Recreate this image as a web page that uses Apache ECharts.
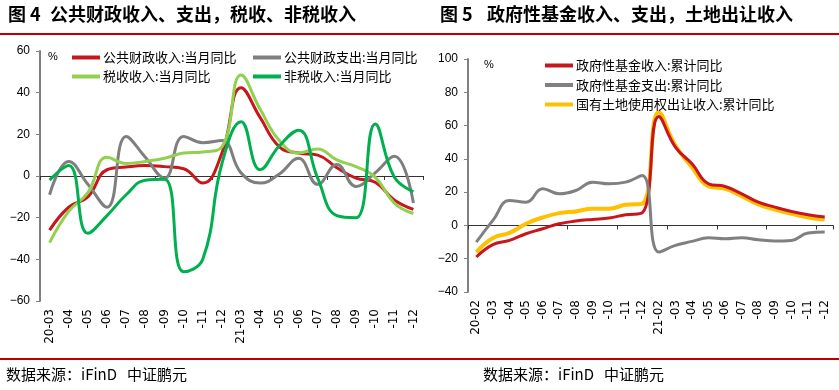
<!DOCTYPE html>
<html><head><meta charset="utf-8">
<script src="https://cdn.jsdelivr.net/npm/echarts@6/dist/echarts.min.js"></script>
<style>html,body{margin:0;padding:0;background:#fff}#c{width:839px;height:390px}</style>
</head><body><div id="c"></div><script>
// ---- Left chart (图4) ----
const leftCats = ['20-03','-04','-05','-06','-07','-08','-09','-10','-11','-12','21-03','-04','-05','-06','-07','-08','-09','-10','-11','-12'];
const revenue = [-26, -15, -10, 3, 4.3, 5, 4.5, 3.5, -3.4, 11, 42.4, 28, 14, 11, 10, 4, -1, -3, -11.5, -16];
const expend  = [-9, 7, -4, -15, 19, 9, -1, 19, 16, 17, 1.5, -3.4, 1, 8.5, -4, 5.5, -5, 1.5, 9.5, -13];
const taxRev  = [-32, -17, -8, 9, 6, 7, 8.5, 11, 11.5, 14, 48.5, 32, 17, 11, 13, 7.7, 4.5, -0.5, -13, -18];
const nonTax  = [-2, 5, -27.5, -19, -9, -2, -1.5, -46, -40, 6, 26, 3, 14.5, 22, -1, -19, -20, 25, -0.5, -7.5];
const leftTicks = {min: -60, max: 60, interval: 20};

// ---- Right chart (图5) ----
const rightCats = ['20-02','-03','-04','-05','-06','-07','-08','-09','-10','-11','-12','21-02','-03','-04','-05','-06','-07','-08','-09','-10','-11','-12'];
const fundRev = [-19, -11.5, -9, -5, -2, 1, 2.6, 3.6, 4.4, 6.4, 7.5, 65.5, 47, 37, 25, 23.4, 19, 14, 11, 8.4, 6.4, 5];
const fundExp = [-10, 3, 15, 14, 22, 19, 21, 26, 25, 26, 30, -16, -12, -9.6, -7.4, -8, -7.4, -8.6, -9.4, -9, -4.6, -4];
const landRev = [-16, -7.5, -4.5, 1, 4.8, 7.4, 8.4, 10, 10, 12.4, 13, 68, 48, 35, 23.5, 22, 17.6, 12.6, 9.6, 7, 4.8, 3.6];
const rightTicks = {min: -40, max: 100, interval: 20};

const numFont = '"Liberation Sans Narrow", "Liberation Sans", Arial, sans-serif';
const cjk = '"Noto Sans CJK SC", sans-serif';
const fmt = v => String(v).replace('-', '\u2212');

function xAxes(grid, cats) {
  return [
    {gridIndex: grid, type: 'category', data: cats, position: 'bottom',
     axisLine: {show: false, onZero: false}, axisTick: {show: false},
     axisLabel: {rotate: 90, fontSize: 12, margin: 8, color: '#000', fontFamily: 'DejaVu Sans', interval: 0}},
    {gridIndex: grid, type: 'category', data: cats, position: 'bottom',
     axisLine: {show: true, onZero: true, lineStyle: {color: '#333', width: 1}},
     axisTick: {show: true, length: 4, lineStyle: {color: '#333'}},
     axisLabel: {show: false}}
  ];
}
function yAxis(grid, t) {
  return {gridIndex: grid, type: 'value', min: t.min, max: t.max, interval: t.interval,
    axisLine: {show: true, lineStyle: {color: '#808080', width: 2}},
    axisTick: {show: true, length: 4, lineStyle: {color: '#808080', width: 1}},
    splitLine: {show: false},
    axisLabel: {fontSize: 12, margin: 10, color: '#000', fontFamily: numFont, formatter: fmt}};
}
function line(name, data, x, y, color, w) {
  return {name, type: 'line', data, xAxisIndex: x, yAxisIndex: y, smooth: 0.45,
    symbol: 'none', lineStyle: {color, width: w}, itemStyle: {color}};
}
const legendBase = {orient: 'vertical', icon: 'rect', itemWidth: 28, itemHeight: 4, itemGap: 6,
  selectedMode: false, textStyle: {fontSize: 13, fontFamily: cjk, color: '#000', padding: [0,0,0,-2]}};

const chart = echarts.init(document.getElementById('c'));
chart.setOption({
  animation: false,
  backgroundColor: '#fff',
  grid: [
    {left: 40, top: 51, width: 383, height: 250},
    {left: 468, top: 59, width: 365, height: 233}
  ],
  xAxis: [...xAxes(0, leftCats), ...xAxes(1, rightCats)],
  yAxis: [yAxis(0, leftTicks), yAxis(1, rightTicks)],
  legend: [
    Object.assign({}, legendBase, {left: 67, top: 46, data: ['公共财政收入:当月同比', '税收收入:当月同比']}),
    Object.assign({}, legendBase, {left: 248, top: 46, data: ['公共财政支出:当月同比', '非税收入:当月同比']}),
    Object.assign({}, legendBase, {left: 540, top: 54, itemGap: 6.5, data: ['政府性基金收入:累计同比', '政府性基金支出:累计同比', '国有土地使用权出让收入:累计同比']})
  ],
  series: [
    line('公共财政收入:当月同比', revenue, 0, 0, '#C8161D', 3),
    line('公共财政支出:当月同比', expend, 0, 0, '#7F7F7F', 3),
    line('税收收入:当月同比', taxRev, 0, 0, '#92D050', 3),
    line('非税收入:当月同比', nonTax, 0, 0, '#00B050', 3),
    line('国有土地使用权出让收入:累计同比', landRev, 2, 1, '#FFC000', 4),
    line('政府性基金收入:累计同比', fundRev, 2, 1, '#C8161D', 3),
    line('政府性基金支出:累计同比', fundExp, 2, 1, '#808080', 3)
  ],
  graphic: [
    {type: 'text', left: 8, top: 5, style: {text: '图 4', font: 'bold 18px ' + cjk, fill: '#000'}},
    {type: 'text', left: 50, top: 5, style: {text: '公共财政收入、支出，税收、非税收入', font: 'bold 18px ' + cjk, fill: '#000'}},
    {type: 'text', left: 440, top: 5, style: {text: '图 5', font: 'bold 18px ' + cjk, fill: '#000'}},
    {type: 'text', left: 487, top: 5, style: {text: '政府性基金收入、支出，土地出让收入', font: 'bold 18px ' + cjk, fill: '#000'}},
    {type: 'rect', shape: {x: 0, y: 33, width: 839, height: 2}, style: {fill: '#C00000'}},
    {type: 'rect', shape: {x: 0, y: 358, width: 839, height: 2}, style: {fill: '#C00000'}},
    {type: 'text', left: 48, top: 51, style: {text: '%', font: '11px ' + numFont, fill: '#000'}},
    {type: 'text', left: 484, top: 59, style: {text: '%', font: '11px ' + numFont, fill: '#000'}},
    {type: 'text', left: 6, top: 367, style: {text: '数据来源：iFinD   中证鹏元', font: '15px ' + cjk, fill: '#000'}},
    {type: 'text', left: 483, top: 367, style: {text: '数据来源：iFinD   中证鹏元', font: '15px ' + cjk, fill: '#000'}}
  ]
});
</script></body></html>
